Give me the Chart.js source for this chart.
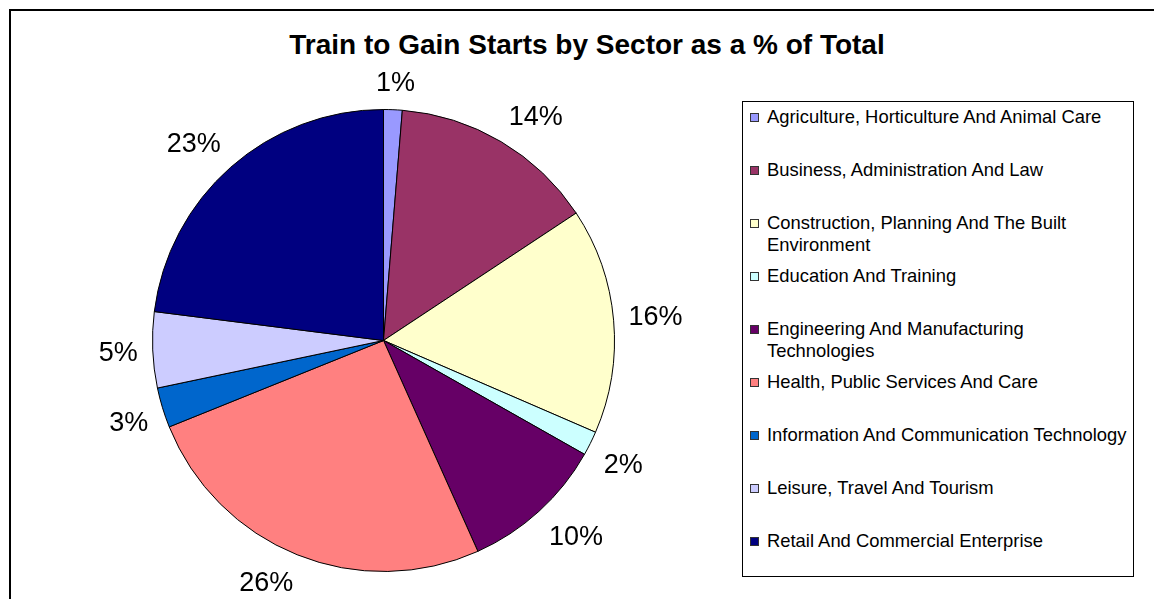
<!DOCTYPE html>
<html>
<head>
<meta charset="utf-8">
<title>Train to Gain Starts by Sector</title>
<script src="https://cdn.jsdelivr.net/npm/chart.js@4.4.1/dist/chart.umd.min.js"></script>
<style>
  body {
    margin: 0;
    width: 1154px;
    height: 599px;
    overflow: hidden;
    background: #fff;
    position: relative;
    font-family: Arial, "Liberation Sans", sans-serif;
  }
  #frame {
    position: absolute;
    left: 9px;
    top: 9px;
    width: 1200px;
    height: 700px;
    border: 2px solid #000;
  }
  #title {
    position: absolute;
    left: 0;
    top: 29px;
    width: 1174px;
    text-align: center;
    font-weight: bold;
    font-size: 28px;
    line-height: 32px;
    color: #000;
  }
  #chartBox {
    position: absolute;
    left: 0;
    top: 0;
    width: 1154px;
    height: 599px;
  }
  #legend {
    position: absolute;
    left: 742px;
    top: 101px;
    width: 392px;
    height: 476px;
    border: 1px solid #000;
    box-sizing: border-box;
    background: #fff;
  }
  .item {
    position: absolute;
    left: 24px;
    font-size: 18.4px;
    line-height: 22px;
    color: #000;
    white-space: nowrap;
  }
  .swatch {
    position: absolute;
    left: -17px;
    top: 7px;
    width: 7px;
    height: 7px;
    border: 1px solid #333;
  }
</style>
</head>
<body>
<div id="frame"></div>
<div id="title">Train to Gain Starts by Sector as a % of Total</div>
<div id="chartBox"><canvas id="sectorChart"></canvas></div>
<div id="legend"></div>

<script>
// sectors, in the order they go round the pie (clockwise from the top)
const sectors = [
  'Agriculture, Horticulture And Animal Care',
  'Business, Administration And Law',
  ['Construction, Planning And The Built', 'Environment'],
  'Education And Training',
  ['Engineering And Manufacturing', 'Technologies'],
  'Health, Public Services And Care',
  'Information And Communication Technology',
  'Leisure, Travel And Tourism',
  'Retail And Commercial Enterprise',
];

// share of starts (%)
const shares = [1.3, 14.4, 15.8, 1.7, 10.1, 25.6, 2.8, 5.3, 23.0];

const sliceColours = [
  '#9999FF', '#993366', '#FFFFCC', '#CCFFFF', '#660066',
  '#FF8080', '#0066CC', '#CCCCFF', '#000080',
];

// percentage labels just outside each slice, pushed out by their own box size
const outsideLabels = {
  id: 'outsideLabels',
  afterDatasetsDraw(chart) {
    const ctx = chart.ctx;
    const meta = chart.getDatasetMeta(0);
    const data = chart.data.datasets[0].data;
    const total = data.reduce((a, b) => a + b, 0);
    const clamp = (v) => Math.max(-1, Math.min(1, v));
    ctx.save();
    ctx.font = '27px Arial, "Liberation Sans", sans-serif';
    ctx.fillStyle = '#000';
    ctx.textAlign = 'center';
    ctx.textBaseline = 'middle';
    meta.data.forEach((arc, i) => {
      const p = arc.getProps(['x', 'y', 'startAngle', 'endAngle', 'outerRadius'], true);
      const mid = (p.startAngle + p.endAngle) / 2;
      const ux = Math.cos(mid);
      const uy = Math.sin(mid);
      const text = Math.round(data[i] / total * 100) + '%';
      const halfW = ctx.measureText(text).width / 2;
      const halfH = 13;
      const d = p.outerRadius + 15;
      const lx = p.x + ux * d + halfW * clamp(2.5 * ux);
      const ly = p.y + uy * d + halfH * clamp(2.5 * uy) + 2;
      ctx.fillText(text, lx, ly);
    });
    ctx.restore();
  },
};

const ctx = document.getElementById('sectorChart').getContext('2d');
const chart = new Chart(ctx, {
  type: 'pie',
  data: {
    labels: sectors,
    datasets: [
      {
        data: shares,
        backgroundColor: sliceColours,
        borderColor: '#000',
        borderWidth: 1,
      },
    ],
  },
  options: {
    responsive: true,
    maintainAspectRatio: false,
    animation: false,
    layout: {
      padding: { left: 152, top: 109, right: 539, bottom: 27 },
    },
    plugins: {
      legend: { display: false },
      title: { display: false },
      tooltip: { enabled: true },
    },
  },
  plugins: [outsideLabels],
});

// legend box on the right, built from the same arrays
const legend = document.getElementById('legend');
sectors.forEach((name, i) => {
  const item = document.createElement('div');
  item.className = 'item';
  item.style.top = (4 + i * 53) + 'px';
  const sw = document.createElement('span');
  sw.className = 'swatch';
  sw.style.background = sliceColours[i];
  item.appendChild(sw);
  const lines = Array.isArray(name) ? name : [name];
  lines.forEach((line, j) => {
    if (j > 0) item.appendChild(document.createElement('br'));
    item.appendChild(document.createTextNode(line));
  });
  legend.appendChild(item);
});
</script>
</body>
</html>
